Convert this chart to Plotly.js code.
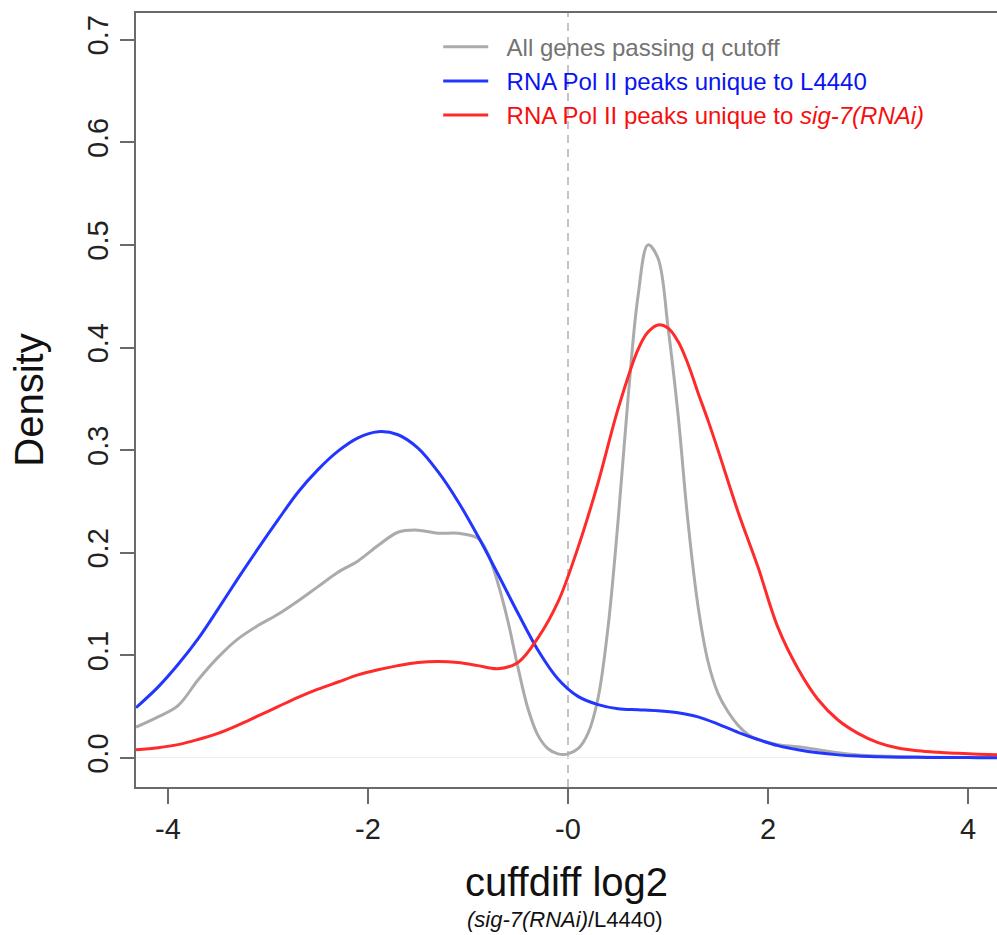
<!DOCTYPE html>
<html>
<head>
<meta charset="utf-8">
<script src="https://cdn.plot.ly/plotly-3.0.1.min.js"></script>
<style>
html,body{margin:0;padding:0;background:#fff;overflow:hidden;}
#chart{width:997px;height:935px;}
</style>
</head>
<body>
<div id="chart"></div>
<script>
// ---- data ----
const seriesNames = [
  "All genes passing q cutoff",
  "RNA Pol II peaks unique to L4440",
  "RNA Pol II peaks unique to <i>sig-7(RNAi)</i>"
];

const grayX = [-4.32,-4.1,-3.9,-3.7,-3.5,-3.3,-3.1,-2.9,-2.7,-2.5,-2.3,-2.1,-1.9,-1.7,-1.5,-1.3,-1.1,-0.9,-0.8,-0.7,-0.6,-0.5,-0.4,-0.3,-0.2,-0.1,0.0,0.1,0.2,0.3,0.4,0.5,0.6,0.7,0.8,0.9,1.0,1.1,1.2,1.3,1.4,1.5,1.6,1.7,1.8,1.9,2.1,2.3,2.5,2.7,2.9,3.1,3.5,4.3];
const grayY = [0.030,0.040,0.051,0.076,0.098,0.116,0.129,0.140,0.153,0.167,0.181,0.192,0.207,0.220,0.222,0.219,0.219,0.214,0.199,0.170,0.133,0.088,0.048,0.022,0.009,0.004,0.004,0.009,0.024,0.058,0.127,0.230,0.350,0.450,0.500,0.487,0.420,0.335,0.230,0.148,0.094,0.063,0.045,0.032,0.023,0.018,0.013,0.011,0.008,0.005,0.003,0.002,0.001,0.0005];

const blueX = [-4.32,-4.1,-3.9,-3.7,-3.5,-3.3,-3.1,-2.9,-2.7,-2.5,-2.3,-2.1,-1.9,-1.7,-1.5,-1.3,-1.1,-0.9,-0.7,-0.5,-0.3,-0.1,0.1,0.3,0.5,0.7,0.9,1.1,1.3,1.5,1.7,1.9,2.1,2.3,2.5,2.7,2.9,3.1,3.3,3.5,3.7,3.9,4.1,4.3];
const blueY = [0.049,0.069,0.091,0.116,0.145,0.175,0.204,0.232,0.259,0.281,0.299,0.312,0.318,0.315,0.302,0.279,0.250,0.216,0.179,0.141,0.105,0.077,0.060,0.052,0.048,0.047,0.046,0.044,0.040,0.033,0.025,0.018,0.012,0.008,0.005,0.003,0.0018,0.0012,0.0008,0.0006,0.0005,0.0004,0.0003,0.0002];

const redX = [-4.32,-4.1,-3.9,-3.7,-3.5,-3.3,-3.1,-2.9,-2.7,-2.5,-2.3,-2.1,-1.9,-1.7,-1.5,-1.3,-1.1,-0.9,-0.7,-0.5,-0.3,-0.1,0.1,0.3,0.5,0.7,0.8,0.9,1.0,1.1,1.2,1.3,1.4,1.5,1.7,1.9,2.1,2.3,2.5,2.7,2.9,3.1,3.3,3.5,3.7,3.9,4.1,4.3];
const redY = [0.008,0.010,0.013,0.018,0.024,0.032,0.041,0.050,0.059,0.067,0.074,0.081,0.086,0.090,0.093,0.094,0.093,0.090,0.087,0.093,0.117,0.152,0.205,0.268,0.340,0.398,0.415,0.422,0.419,0.406,0.384,0.356,0.329,0.300,0.240,0.186,0.127,0.087,0.057,0.037,0.024,0.015,0.0097,0.007,0.0055,0.0045,0.0037,0.003];

const xTickVals = [-4,-2,0,2,4];
const xTickText = ["-4","-2","-0","2","4"];
const yTickVals = [0,0.1,0.2,0.3,0.4,0.5,0.6,0.7];
const yTickText = ["0.0","0.1","0.2","0.3","0.4","0.5","0.6","0.7"];

// ---- styles ----
const FONT = "Liberation Sans, Arial, Helvetica, sans-serif";
const colors = {gray:"#ababab", blue:"#2236ff", red:"#ff2b2b"};
const textColors = {gray:"#737373", blue:"#0a14f0", red:"#f50f0f"};
const PAD = "\u00A0\u00A0";

const traces = [
  {x:grayX, y:grayY, name:'<span style="color:'+textColors.gray+'">'+PAD+seriesNames[0]+'</span>', legendgroup:"g1",
   mode:"lines", line:{color:colors.gray, width:3, shape:"spline", smoothing:1}},
  {x:blueX, y:blueY, name:'<span style="color:'+textColors.blue+'">'+PAD+seriesNames[1]+'</span>', legendgroup:"g2",
   mode:"lines", line:{color:colors.blue, width:3, shape:"spline", smoothing:1}},
  {x:redX, y:redY, name:'<span style="color:'+textColors.red+'">'+PAD+seriesNames[2]+'</span>', legendgroup:"g3",
   mode:"lines", line:{color:colors.red, width:3, shape:"spline", smoothing:1}}
];

const layout = {
  width:997, height:935,
  margin:{l:136, r:0, t:13, b:148, pad:0},
  paper_bgcolor:"#fff", plot_bgcolor:"#fff",
  font:{family:FONT, color:"#222", size:29},
  showlegend:true,
  legend:{x:0.351, y:0.985, xanchor:"left", yanchor:"top", bgcolor:"rgba(0,0,0,0)",
          font:{family:FONT, size:24, color:"#222"}, itemwidth:45, tracegroupgap:5, traceorder:"normal"},
  xaxis:{range:[-4.32,4.29], tickvals:xTickVals, ticktext:xTickText,
         showgrid:false, zeroline:false, showline:true, mirror:true, linecolor:"#6a6a6a", linewidth:2,
         ticks:"outside", ticklen:15, tickwidth:2, tickcolor:"#6a6a6a",
         tickfont:{family:FONT, size:29, color:"#222"},
         title:{text:"cuffdiff log2", font:{family:FONT, size:40, color:"#111"}, standoff:24}},
  yaxis:{range:[-0.0283,0.726], tickvals:yTickVals, ticktext:yTickText, tickangle:-90,
         showgrid:false, zeroline:true, zerolinecolor:"#f0f0f0", zerolinewidth:1,
         showline:true, mirror:false, linecolor:"#6a6a6a", linewidth:2,
         ticks:"outside", ticklen:14, tickwidth:2, tickcolor:"#6a6a6a",
         tickfont:{family:FONT, size:29, color:"#222"},
         title:{text:"Density", font:{family:FONT, size:40, color:"#111"}, standoff:26}},
  shapes:[{type:"line", xref:"x", yref:"paper", x0:0, x1:0, y0:0, y1:1,
           line:{color:"#c4c4c4", width:2, dash:"8px,6px"}, layer:"below"}],
  annotations:[{xref:"paper", yref:"paper", x:0.4985, y:-0.171, xanchor:"center", yanchor:"middle",
                text:"<i>(sig-7(RNAi)</i>/L4440)", showarrow:false,
                font:{family:FONT, size:22, color:"#111"}}]
};

Plotly.newPlot("chart", traces, layout, {displayModeBar:false, staticPlot:true});
</script>
</body>
</html>
